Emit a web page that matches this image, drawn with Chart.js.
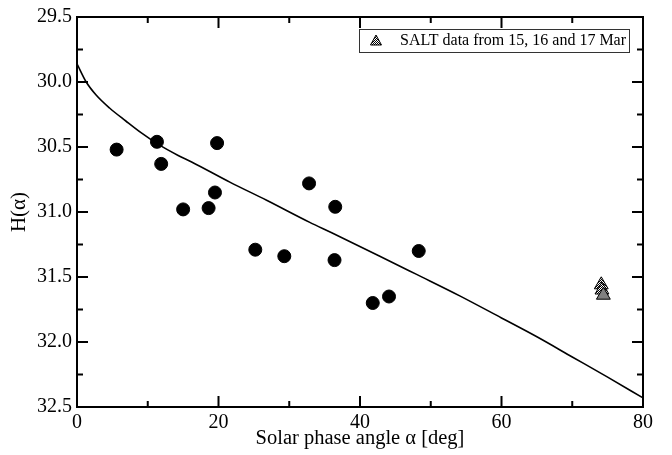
<!DOCTYPE html>
<html>
<head>
<meta charset="utf-8">
<script src="https://cdn.jsdelivr.net/npm/chart.js@4.4.0/dist/chart.umd.min.js"></script>
<style>
  html, body { margin: 0; padding: 0; background: #fff; }
</style>
</head>
<body>
<canvas id="myChart" width="672" height="455"></canvas>
<script>
// observed points (filled circles)
const dotX = [5.6, 11.3, 11.9, 15.0, 18.6, 19.5, 19.8, 25.2, 29.3, 32.8, 36.4, 36.5, 41.8, 44.1, 48.3];
const dotY = [30.52, 30.46, 30.63, 30.98, 30.97, 30.85, 30.47, 31.29, 31.34, 30.78, 31.37, 30.96, 31.70, 31.65, 31.30];

// SALT triangles
const saltX = [74.1, 74.2, 74.4];
const saltY = [31.56, 31.60, 31.64];

// model curve
const modelX = [0, 1.3, 2.7, 4.6, 6.9, 9.05, 11.5, 14.3, 16.2, 21.6, 26.8, 32.9, 36, 42.8, 48, 54.1, 60, 65, 70, 75, 80];
const modelY = [29.86, 30.0, 30.1, 30.2, 30.3, 30.39, 30.48, 30.565, 30.615, 30.77, 30.91, 31.08, 31.16, 31.34, 31.48, 31.645, 31.815, 31.96, 32.115, 32.27, 32.43];

// ticks
const xMajor = [0, 20, 40, 60, 80];
const xMinor = [10, 30, 50, 70];
const yMajor = [29.5, 30.0, 30.5, 31.0, 31.5, 32.0, 32.5];
const yMinor = [29.75, 30.25, 30.75, 31.25, 31.75, 32.25];

const legendText = "SALT data from 15, 16 and 17 Mar";
const serif = "'Liberation Serif', 'Times New Roman', serif";

function checker() {
  const c = document.createElement("canvas");
  c.width = 2; c.height = 2;
  const g = c.getContext("2d");
  g.fillStyle = "#fff"; g.fillRect(0, 0, 2, 2);
  g.fillStyle = "#000";
  g.fillRect(0, 0, 1, 1); g.fillRect(1, 1, 1, 1);
  return g.createPattern(c, "repeat");
}
const hatch = checker();

// frame, inward ticks and boxed legend
const framePlugin = {
  id: "frame",
  afterDraw(chart) {
    const { ctx, chartArea: a, scales: { x, y } } = chart;
    ctx.save();
    ctx.strokeStyle = "#000";
    ctx.lineWidth = 2;
    ctx.strokeRect(a.left, a.top, a.right - a.left, a.bottom - a.top);
    ctx.beginPath();
    const xt = (v, len) => {
      const p = x.getPixelForValue(v);
      ctx.moveTo(p, a.bottom); ctx.lineTo(p, a.bottom - len);
      ctx.moveTo(p, a.top); ctx.lineTo(p, a.top + len);
    };
    const yt = (v, len) => {
      const p = y.getPixelForValue(v);
      ctx.moveTo(a.left, p); ctx.lineTo(a.left + len, p);
      ctx.moveTo(a.right, p); ctx.lineTo(a.right - len, p);
    };
    xMajor.forEach((v) => xt(v, 11));
    xMinor.forEach((v) => xt(v, 6));
    yMajor.forEach((v) => yt(v, 11));
    yMinor.forEach((v) => yt(v, 6));
    ctx.stroke();

    // legend
    ctx.lineWidth = 1;
    ctx.strokeStyle = "#333";
    ctx.strokeRect(359.5, 29.5, 270, 23);
    ctx.beginPath();
    ctx.moveTo(376, 35); ctx.lineTo(381.5, 45); ctx.lineTo(370.5, 45); ctx.closePath();
    ctx.fillStyle = hatch; ctx.fill();
    ctx.strokeStyle = "#000"; ctx.stroke();
    ctx.fillStyle = "#000";
    ctx.font = "16px " + serif;
    ctx.textBaseline = "middle";
    ctx.fillText(legendText, 400, 41);
    ctx.restore();
  },
};

const ctx = document.getElementById("myChart").getContext("2d");
new Chart(ctx, {
  type: "scatter",
  data: {
    datasets: [
      {
        type: "line",
        data: modelX.map((v, i) => ({ x: v, y: modelY[i] })),
        borderColor: "#000",
        borderWidth: 1.6,
        pointRadius: 0,
        cubicInterpolationMode: "monotone",
        fill: false,
      },
      {
        data: dotX.map((v, i) => ({ x: v, y: dotY[i] })),
        pointRadius: 6.5,
        pointBackgroundColor: "#000",
        pointBorderColor: "#000",
      },
      {
        data: saltX.map((v, i) => ({ x: v, y: saltY[i] })),
        pointStyle: "triangle",
        pointRadius: 8,
        pointBackgroundColor: [hatch, hatch, "#808080"],
        pointBorderColor: "#000",
        pointBorderWidth: 1,
      },
    ],
  },
  options: {
    responsive: false,
    animation: false,
    layout: { padding: { top: 11, right: 29, left: 0, bottom: 0 } },
    plugins: { legend: { display: false }, tooltip: { enabled: false } },
    scales: {
      x: {
        type: "linear",
        min: 0,
        max: 80,
        afterFit: (s) => { s.height = 48; },
        grid: { display: false, drawTicks: false },
        border: { display: false },
        ticks: { stepSize: 20, padding: 4, color: "#000", font: { family: serif, size: 20 } },
        title: {
          display: true,
          text: "Solar phase angle α [deg]",
          color: "#000",
          font: { family: serif, size: 20.5 },
          padding: { top: 0, bottom: 4 },
        },
      },
      y: {
        type: "linear",
        reverse: true,
        min: 29.5,
        max: 32.5,
        afterFit: (s) => { s.width = 77; },
        grid: { display: false, drawTicks: false },
        border: { display: false },
        ticks: {
          stepSize: 0.5,
          padding: 5,
          color: "#000",
          font: { family: serif, size: 20 },
          callback: (v) => v.toFixed(1),
        },
        title: {
          display: true,
          text: "H(α)",
          color: "#000",
          font: { family: serif, size: 21 },
          padding: { top: 7, bottom: 0 },
        },
      },
    },
  },
  plugins: [framePlugin],
});
</script>
</body>
</html>
